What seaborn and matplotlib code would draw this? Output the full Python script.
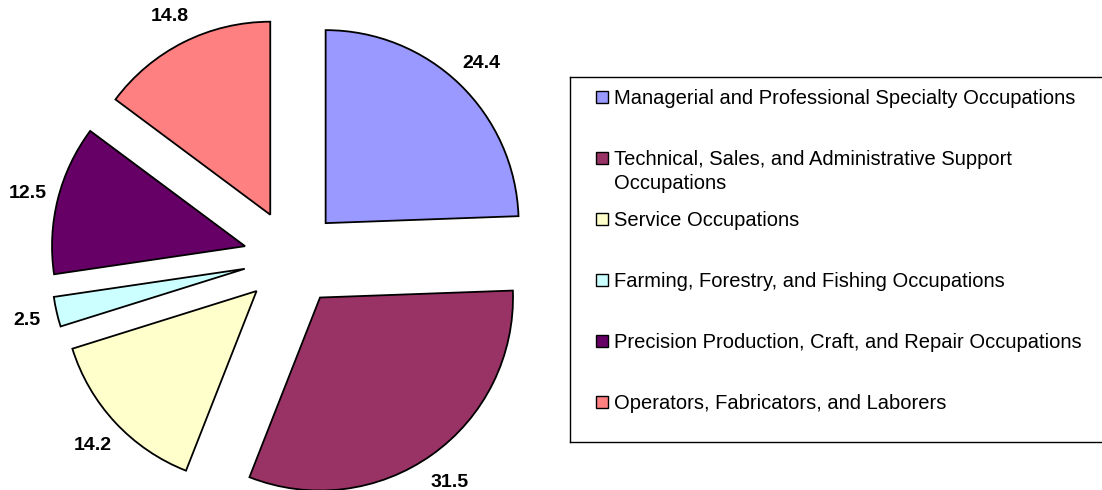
import matplotlib
matplotlib.use("Agg")
import matplotlib.pyplot as plt
import seaborn as sns
from matplotlib.patches import Rectangle

# ---- data ----
categories = [
    "Managerial and Professional Specialty Occupations",
    "Technical, Sales, and Administrative Support\nOccupations",
    "Service Occupations",
    "Farming, Forestry, and Fishing Occupations",
    "Precision Production, Craft, and Repair Occupations",
    "Operators, Fabricators, and Laborers",
]
values = [24.4, 31.5, 14.2, 2.5, 12.5, 14.8]
value_labels = ["24.4", "31.5", "14.2", "2.5", "12.5", "14.8"]
colors = ["#9999FF", "#993366", "#FFFFCC", "#CCFFFF", "#660066", "#FF8080"]

sns.set_theme(style="white")
plt.rcParams["font.family"] = ["Liberation Sans", "DejaVu Sans"]

W, H = 1102, 490
fig = plt.figure(figsize=(W / 100, H / 100), dpi=100)
fig.patch.set_facecolor("white")

# pie axes (left part)
R = 193.0              # pixel radius
cx, cy = 292.0, 232.0  # pixel center (from bottom)
ax = fig.add_axes([0, 0, 560 / W, 1])
wedges, texts = ax.pie(
    values,
    labels=value_labels,
    colors=colors,
    startangle=90,
    counterclock=False,
    explode=[0.251] * len(values),
    labeldistance=1.16,
    wedgeprops=dict(edgecolor="black", linewidth=1.3),
    textprops=dict(fontsize=14, fontweight="bold", color="black"),
)
for t in texts:
    t.set_ha("center")
    t.set_va("center_baseline")
ax.set_aspect("auto")
ax.set_xlim(-cx / R, (560 - cx) / R)
ax.set_ylim(-cy / R, (H - cy) / R)
ax.axis("off")

# legend box (right part), drawn in pixel units
lx0, ly0, ly1 = 570, 77, 442
lax = fig.add_axes([lx0 / W, (H - ly1) / H, (W - lx0) / W, (ly1 - ly0) / H])
lax.set_xlim(0, W - lx0)
lax.set_ylim(ly1 - ly0, 0)
lax.set_xticks([])
lax.set_yticks([])
for side in ["left", "top", "bottom"]:
    lax.spines[side].set_visible(True)
    lax.spines[side].set_color("black")
    lax.spines[side].set_linewidth(1.0)
lax.spines["right"].set_visible(False)
lax.set_facecolor("white")

row0, step, line_h = 20, 61, 24
for i, (lab, col) in enumerate(zip(categories, colors)):
    y = row0 + step * i
    lax.add_patch(Rectangle((26, y - 6), 12, 12, facecolor=col,
                            edgecolor="black", linewidth=1.0))
    for j, line in enumerate(lab.split("\n")):
        lax.text(44, y + 7 + j * line_h, line, fontsize=14.5, va="baseline",
                 ha="left", color="black")

fig.savefig("out.png", dpi=100, facecolor="white")
